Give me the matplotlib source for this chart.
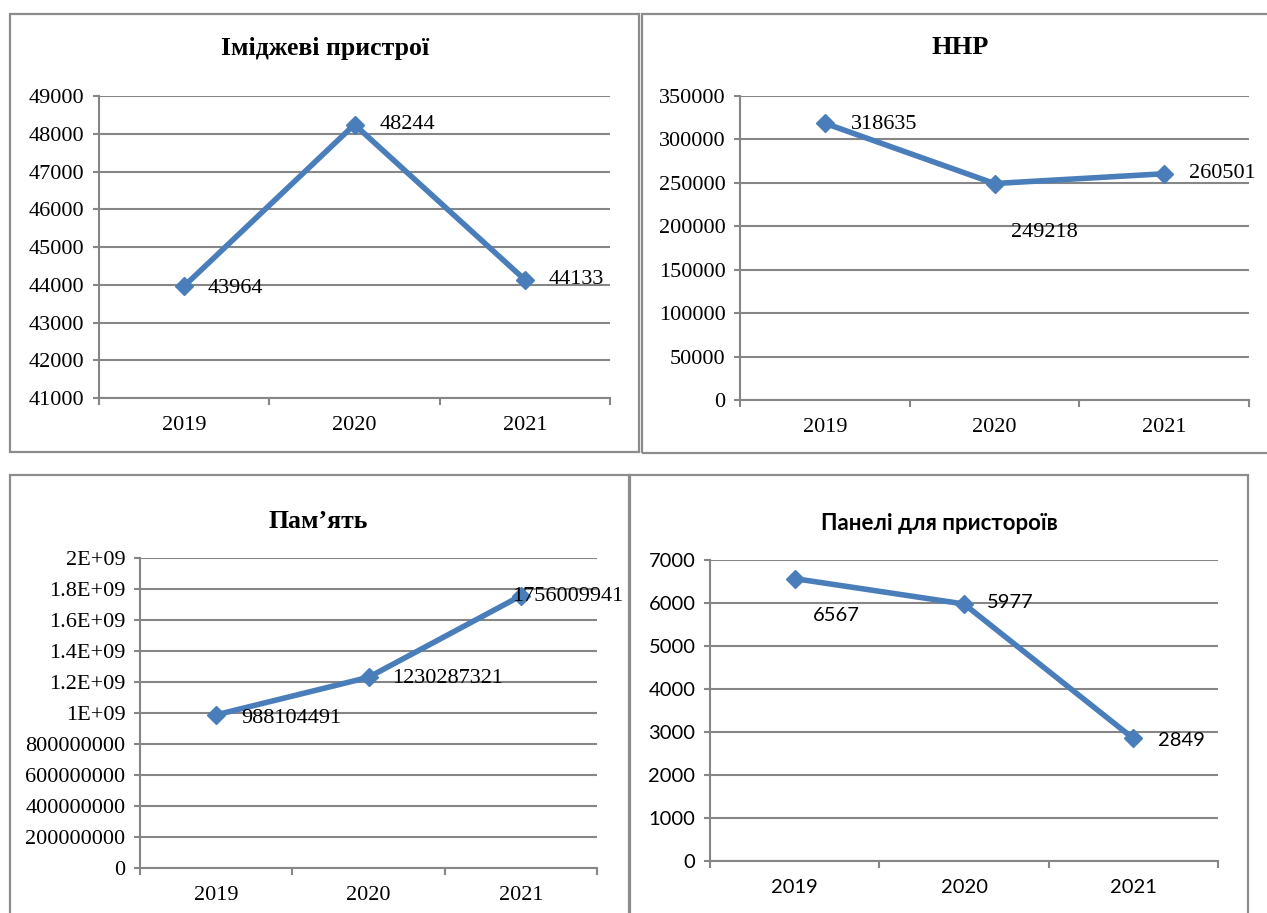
"""
Four small Excel-style line charts (2019-2021) in a 2x2 grid.
Saves out.png at 1267x913 px.
"""

import matplotlib.pyplot as plt
from matplotlib.patches import Rectangle

# ---------------------------------------------------------------------------
# Data
# ---------------------------------------------------------------------------

YEARS = ["2019", "2020", "2021"]

IMAGING_TITLE = "Іміджеві пристрої"
IMAGING = [43964, 48244, 44133]

HHP_TITLE = "ННР"
HHP = [318635, 249218, 260501]

MEMORY_TITLE = "Пам’ять"
MEMORY = [988104491, 1230287321, 1756009941]
MEMORY_TICKS = [0, 2e8, 4e8, 6e8, 8e8, 1e9, 1.2e9, 1.4e9, 1.6e9, 1.8e9, 2e9]
MEMORY_TICK_LABELS = ["0", "200000000", "400000000", "600000000", "800000000",
                      "1E+09", "1.2E+09", "1.4E+09", "1.6E+09", "1.8E+09", "2E+09"]

PANELS_TITLE = "Панелі для пристороїв"
PANELS = [6567, 5977, 2849]

# ---------------------------------------------------------------------------
# Style
# ---------------------------------------------------------------------------

W, H = 1267, 913
DPI = 100
LINE_COLOR = "#4A7EBB"
GRID_COLOR = "#868686"
BORDER_COLOR = "#8C8C8C"
SERIF = ["Liberation Serif", "DejaVu Serif"]
SANS = ["Lato", "Noto Sans", "DejaVu Sans"]


def fx(x):
    return x / W


def fy(y):
    return 1 - y / H


def add_border(fig, x0, y0, x1, y1):
    fig.add_artist(Rectangle((fx(x0), fy(y1)), fx(x1) - fx(x0), fy(y0) - fy(y1),
                             transform=fig.transFigure, fill=False,
                             edgecolor=BORDER_COLOR, linewidth=1.6, clip_on=False))


def line_panel(fig, box, values, yticks, title, title_xy, label_offsets,
               family, title_size, font_size, yticklabels=None):
    x0, y0, x1, y1 = box
    ax = fig.add_axes([fx(x0), fy(y1), fx(x1) - fx(x0), fy(y0) - fy(y1)])
    xs = range(len(values))
    ax.plot(xs, values, color=LINE_COLOR, linewidth=4, marker="D",
            markersize=9.5, markerfacecolor=LINE_COLOR, markeredgecolor=LINE_COLOR,
            zorder=3, clip_on=False)

    ax.set_xlim(-0.5, len(values) - 0.5)
    ax.set_ylim(yticks[0], yticks[-1])
    ax.set_yticks(yticks)
    if yticklabels is not None:
        ax.set_yticklabels(yticklabels)
    ax.set_xticks(list(xs))
    ax.set_xticklabels(YEARS)
    ax.set_xticks([i - 0.5 for i in range(len(values) + 1)], minor=True)

    ax.grid(axis="y", color=GRID_COLOR, linewidth=1.5)
    ax.set_axisbelow(True)
    for side in ("top", "right"):
        ax.spines[side].set_visible(False)
    for side in ("left", "bottom"):
        ax.spines[side].set_color(GRID_COLOR)
        ax.spines[side].set_linewidth(1.5)

    ax.tick_params(axis="y", direction="out", length=4.5, width=1.5,
                   color=GRID_COLOR, pad=6, labelsize=font_size)
    ax.tick_params(axis="x", which="major", length=0, pad=13, labelsize=font_size)
    ax.tick_params(axis="x", which="minor", direction="out", length=5,
                   width=1.5, color=GRID_COLOR)
    for lbl in ax.get_xticklabels() + ax.get_yticklabels():
        lbl.set_family(family)

    for i, (v, off) in enumerate(zip(values, label_offsets)):
        ax.annotate(str(v), (i, v), xytext=off, textcoords="offset pixels",
                    ha="left", va="center", fontsize=font_size, family=family,
                    zorder=4, annotation_clip=False)

    fig.text(fx(title_xy[0]), fy(title_xy[1]), title, ha="center", va="center",
             fontsize=title_size, fontweight="bold", family=family)
    return ax


fig = plt.figure(figsize=(W / DPI, H / DPI), dpi=DPI)
fig.patch.set_facecolor("white")

# panel borders
add_border(fig, 10, 14, 639, 452)
add_border(fig, 642, 14, 1285, 453)
add_border(fig, 10, 475, 629, 930)
add_border(fig, 630, 475, 1248, 930)

line_panel(fig, (99, 96, 610, 398), IMAGING, list(range(41000, 49001, 1000)),
           IMAGING_TITLE, (325, 48),
           [(23, -2), (25, 0), (24, 0)], SERIF, 18.5, 16)

line_panel(fig, (740, 96, 1249, 400), HHP, list(range(0, 350001, 50000)),
           HHP_TITLE, (960, 48),
           [(26, -1), (17, -49), (25, 0)], SERIF, 19, 16)

line_panel(fig, (140, 558, 597, 868), MEMORY, MEMORY_TICKS,
           MEMORY_TITLE, (318, 522),
           [(25, -4), (24, -1), (-9, -1)], SERIF, 18.5, 16,
           yticklabels=MEMORY_TICK_LABELS)

line_panel(fig, (710, 560, 1218, 861), PANELS, list(range(0, 7001, 1000)),
           PANELS_TITLE, (939, 524),
           [(18, -37), (23, 1), (25, -2)], SANS, 16, 14.5)

fig.savefig("out.png", dpi=DPI, facecolor="white")
